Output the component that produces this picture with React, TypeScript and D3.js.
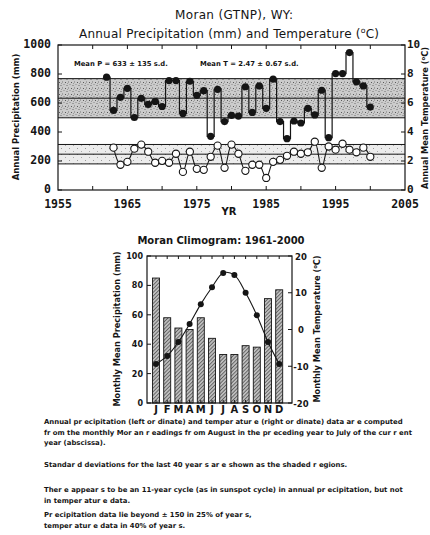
import React from 'react';
import * as d3 from 'd3';

// annual series
const precipYears = [1962, 1963, 1964, 1965, 1966, 1967, 1968, 1969, 1970, 1971, 1972, 1973, 1974, 1975, 1976, 1977, 1978, 1979, 1980, 1981, 1982, 1983, 1984, 1985, 1986, 1987, 1988, 1989, 1990, 1991, 1992, 1993, 1994, 1995, 1996, 1997, 1998, 1999, 2000];
const precipValues = [778, 549, 639, 701, 500, 632, 590, 611, 576, 755, 755, 528, 750, 653, 685, 370, 694, 472, 514, 510, 712, 535, 718, 563, 764, 472, 354, 476, 462, 563, 518, 688, 361, 803, 803, 948, 746, 718, 572];
const tempYears = [1963, 1964, 1965, 1966, 1967, 1968, 1969, 1970, 1971, 1972, 1973, 1974, 1975, 1976, 1977, 1978, 1979, 1980, 1981, 1982, 1983, 1984, 1985, 1986, 1987, 1988, 1989, 1990, 1991, 1992, 1993, 1994, 1995, 1996, 1997, 1998, 1999, 2000];
const tempValues = [2.92, 1.74, 1.94, 2.85, 3.13, 2.64, 1.88, 2.01, 1.88, 2.5, 1.25, 2.64, 1.46, 1.39, 2.29, 3.06, 1.53, 3.13, 2.5, 1.32, 1.74, 1.74, 0.83, 1.94, 2.08, 2.36, 2.64, 2.5, 2.6, 3.33, 1.53, 3.0, 2.78, 3.19, 2.78, 2.6, 2.92, 2.29];
const yearLabels = [1955, 1965, 1975, 1985, 1995, 2005];
const yearMinorTicks = [1960, 1965, 1970, 1975, 1980, 1985, 1990, 1995, 2000];
const precipTicks = [0, 200, 400, 600, 800, 1000];
const tempTicks = [0, 2, 4, 6, 8, 10];
const precipMean = 633;
const precipSd = 135;
const tempMean = 2.47;
const tempSd = 0.67;

// climogram
const months = ['J', 'F', 'M', 'A', 'M', 'J', 'J', 'A', 'S', 'O', 'N', 'D'];
const monthlyPrecip = [85, 58, 51, 50, 58, 44, 33, 33, 39, 38, 71, 77];
const monthlyTemp = [-9.4, -7.2, -3.4, 1.5, 6.9, 11.5, 15.4, 14.8, 10.0, 3.9, -3.4, -9.4];
const climPrecipTicks = [0, 20, 40, 60, 80, 100];
const climTempTicks = [-20, -10, 0, 10, 20];

const notes = [
  ['Annual pr ecipitation (left or dinate) and temper atur e (right or dinate) data ar e computed', 'fr om the monthly Mor an r eadings fr om August in the pr eceding year to July of the cur r ent', 'year (abscissa).'],
  ['Standar d deviations for the last 40 year s ar e shown as the shaded r egions.'],
  ['Ther e appear s to be an 11-year cycle (as in sunspot cycle) in annual pr ecipitation, but not', 'in temper atur e data.'],
  ['Pr ecipitation data lie beyond \u00b1 150 in 25% of year s,', 'temper atur e data in 40% of year s.'],
];
const noteTops = [424, 467, 492, 517];

const INK = '#151515';
const MONO = '"DejaVu Sans Mono", monospace';
const SANS = '"DejaVu Sans", "Liberation Sans", sans-serif';

const Deg = ({ size }: { size: number }) => (
  <>
    (<tspan dy={-size * 0.4} fontSize={size * 0.65}>o</tspan>
    <tspan dy={size * 0.4}>C)</tspan>
  </>
);

export default function App() {
  // top chart
  const x = d3.scaleLinear().domain([1955, 2005]).range([58, 405]);
  const yP = d3.scaleLinear().domain([0, 1000]).range([190, 45]);
  const yT = d3.scaleLinear().domain([0, 10]).range([190, 45]);

  const precipLine = d3.line<number>()
    .x((_, i) => x(precipYears[i]))
    .y(d => yP(d))
    .curve(d3.curveStep);
  const tempLine = d3.line<number>()
    .x((_, i) => x(tempYears[i]))
    .y(d => yT(d))
    .curve(d3.curveCatmullRom.alpha(0.5));

  // climogram
  const xM = d3.scaleBand<number>()
    .domain(d3.range(months.length))
    .range([150.4, 284.8])
    .paddingInner(0.375)
    .paddingOuter(0.1875);
  const yMP = d3.scaleLinear().domain([0, 100]).range([403, 256]);
  const yMT = d3.scaleLinear().domain([-20, 20]).range([403, 256]);
  const cx = (i: number) => (xM(i) as number) + xM.bandwidth() / 2;
  const monthLine = d3.line<number>()
    .x((_, i) => cx(i))
    .y(d => yMT(d))
    .curve(d3.curveCatmullRom.alpha(0.5));

  const left = 147, right = 292;

  const noteLines: { t: string; y: number }[] = [];
  notes.forEach((par, p) => {
    par.forEach((t, k) => noteLines.push({ t, y: noteTops[p] + k * 10.6 }));
  });

  return (
    <svg width={430} height={535} style={{ position: 'absolute', left: 0, top: 0, background: '#fff' }}>
      <defs>
        <pattern id="stipDark" width="6" height="6" patternUnits="userSpaceOnUse">
          <rect width="6" height="6" fill="#cbcbcb" />
          <rect x="0.5" y="1" width="1" height="1" fill="#6a6a6a" />
          <rect x="3.5" y="0" width="1" height="1" fill="#888" />
          <rect x="2" y="3.5" width="1" height="1" fill="#777" />
          <rect x="5" y="4" width="1" height="1" fill="#5a5a5a" />
          <rect x="1" y="5" width="1" height="1" fill="#999" />
        </pattern>
        <pattern id="stipLight" width="8" height="6" patternUnits="userSpaceOnUse">
          <rect width="8" height="6" fill="#ececec" />
          <rect x="1" y="1" width="1" height="1" fill="#aaa" />
          <rect x="5" y="4" width="1" height="1" fill="#999" />
        </pattern>
        <pattern id="hatch" width="2.6" height="2.6" patternUnits="userSpaceOnUse" patternTransform="rotate(45)">
          <rect width="2.6" height="2.6" fill="#bdbdbd" />
          <line x1="0" y1="0" x2="0" y2="2.6" stroke="#2a2a2a" strokeWidth="1.1" />
        </pattern>
      </defs>

      {/* titles */}
      <text x={234} y={19} textAnchor="middle" fontFamily={SANS} fontSize={12} fill={INK} textLength={118}>Moran (GTNP), WY:</text>
      <text x={229} y={38} textAnchor="middle" fontFamily={SANS} fontSize={12} fill={INK} textLength={300}>
        Annual Precipitation (mm) and Temperature <Deg size={12} />
      </text>

      {/* sd bands */}
      <rect x={x(1955)} width={x(2005) - x(1955)} y={yP(precipMean + precipSd)} height={yP(precipMean - precipSd) - yP(precipMean + precipSd)} fill="url(#stipDark)" />
      <rect x={x(1955)} width={x(2005) - x(1955)} y={yT(tempMean + tempSd)} height={yT(tempMean - tempSd) - yT(tempMean + tempSd)} fill="url(#stipLight)" />
      {[precipMean - precipSd, precipMean, precipMean + precipSd].map(v => (
        <line key={'p' + v} x1={x(1955)} x2={x(2005)} y1={yP(v)} y2={yP(v)} stroke={INK} strokeWidth={1} />
      ))}
      {[tempMean - tempSd, tempMean, tempMean + tempSd].map(v => (
        <line key={'t' + v} x1={x(1955)} x2={x(2005)} y1={yT(v)} y2={yT(v)} stroke={INK} strokeWidth={1} />
      ))}

      {/* frame + ticks */}
      <rect x={x(1955)} y={yP(1000)} width={x(2005) - x(1955)} height={yP(0) - yP(1000)} fill="none" stroke={INK} strokeWidth={1.2} />
      {yearMinorTicks.map(t => (
        <g key={t}>
          <line x1={x(t)} x2={x(t)} y1={yP(0)} y2={yP(0) - 4} stroke={INK} />
          <line x1={x(t)} x2={x(t)} y1={yP(1000)} y2={yP(1000) + 4} stroke={INK} />
        </g>
      ))}
      {precipTicks.map(t => (
        <g key={t}>
          <line x1={x(1955)} x2={x(1955) + 4} y1={yP(t)} y2={yP(t)} stroke={INK} />
          <text x={51} y={yP(t) + 3} textAnchor="end" fontFamily={MONO} fontWeight="bold" fontSize={11.5} fill={INK}>{t}</text>
        </g>
      ))}
      {tempTicks.map(t => (
        <g key={t}>
          <line x1={x(2005)} x2={x(2005) - 4} y1={yT(t)} y2={yT(t)} stroke={INK} />
          <text x={407} y={yT(t) + 3} fontFamily={MONO} fontWeight="bold" fontSize={11} fill={INK}>{t}</text>
        </g>
      ))}
      {yearLabels.map(t => (
        <text key={t} x={x(t)} y={208} textAnchor="middle" fontFamily={MONO} fontWeight="bold" fontSize={11.5} fill={INK}>{t}</text>
      ))}
      <text x={229} y={215} textAnchor="middle" fontFamily={SANS} fontWeight="bold" fontSize={10} fill={INK}>YR</text>
      <text transform="translate(19,117) rotate(-90)" textAnchor="middle" fontFamily={SANS} fontWeight="bold" fontSize={8.5} fill={INK}>Annual Precipitation (mm)</text>
      <text transform="translate(428,118) rotate(-90)" textAnchor="middle" fontFamily={SANS} fontWeight="bold" fontSize={8.2} fill={INK}>
        Annual Mean Temperature <Deg size={8.2} />
      </text>

      <text x={74} y={66} fontFamily={SANS} fontWeight="bold" fontSize={6.8} fill={INK}>{`Mean P = ${precipMean} \u00b1 ${precipSd} s.d.`}</text>
      <text x={200} y={66} fontFamily={SANS} fontWeight="bold" fontSize={6.8} fill={INK}>{`Mean T = ${tempMean} \u00b1 ${tempSd} s.d.`}</text>

      {/* series */}
      <path d={tempLine(tempValues) || ''} fill="none" stroke={INK} strokeWidth={1.1} />
      {tempValues.map((v, i) => (
        <circle key={i} cx={x(tempYears[i])} cy={yT(v)} r={3.6} fill="#fff" stroke={INK} strokeWidth={1.1} />
      ))}
      <path d={precipLine(precipValues) || ''} fill="none" stroke={INK} strokeWidth={1.2} />
      {precipValues.map((v, i) => (
        <circle key={i} cx={x(precipYears[i])} cy={yP(v)} r={3.6} fill={INK} />
      ))}

      {/* climogram */}
      <text x={221} y={244} textAnchor="middle" fontFamily={SANS} fontWeight="bold" fontSize={10} fill={INK}>Moran Climogram: 1961-2000</text>
      {monthlyPrecip.map((v, i) => (
        <rect key={i} x={xM(i)} y={yMP(v)} width={xM.bandwidth()} height={yMP(0) - yMP(v)} fill="url(#hatch)" stroke={INK} strokeWidth={0.9} />
      ))}
      <rect x={left} y={yMP(100)} width={right - left} height={yMP(0) - yMP(100)} fill="none" stroke={INK} strokeWidth={1.2} />
      {months.map((_, i) => (
        <g key={i}>
          <line x1={cx(i)} x2={cx(i)} y1={yMP(100)} y2={yMP(100) + 3} stroke={INK} />
          <line x1={cx(i)} x2={cx(i)} y1={yMP(0)} y2={yMP(0) - 3} stroke={INK} />
        </g>
      ))}
      {climPrecipTicks.map(t => (
        <g key={t}>
          <line x1={left} x2={left + 4} y1={yMP(t)} y2={yMP(t)} stroke={INK} />
          <text x={143} y={yMP(t) + 3} textAnchor="end" fontFamily={SANS} fontWeight="bold" fontSize={8} fill={INK}>{t}</text>
        </g>
      ))}
      {climTempTicks.map(t => (
        <g key={t}>
          <line x1={right} x2={right - 4} y1={yMT(t)} y2={yMT(t)} stroke={INK} />
          <text x={301} y={yMT(t) + 3.5} textAnchor="middle" fontFamily={SANS} fontWeight="bold" fontSize={8.5} fill={INK}>{t}</text>
        </g>
      ))}
      <path d={monthLine(monthlyTemp) || ''} fill="none" stroke={INK} strokeWidth={1.1} />
      {monthlyTemp.map((v, i) => (
        <circle key={i} cx={cx(i)} cy={yMT(v)} r={3} fill={INK} />
      ))}
      {months.map((m, i) => (
        <text key={i} x={cx(i)} y={413} textAnchor="middle" fontFamily={SANS} fontWeight="bold" fontSize={10} fill={INK}>{m}</text>
      ))}
      <text transform="translate(120,329) rotate(-90)" textAnchor="middle" fontFamily={SANS} fontWeight="bold" fontSize={8.2} fill={INK}>Monthly Mean Precipitation (mm)</text>
      <text transform="translate(320,329) rotate(-90)" textAnchor="middle" fontFamily={SANS} fontWeight="bold" fontSize={8.2} fill={INK}>
        Monthly Mean Temperature <Deg size={8.2} />
      </text>

      {/* notes */}
      {noteLines.map((l, i) => (
        <text key={i} x={44} y={l.y} fontFamily={SANS} fontWeight="bold" fontSize={6.9} fill={INK}>{l.t}</text>
      ))}
    </svg>
  );
}
